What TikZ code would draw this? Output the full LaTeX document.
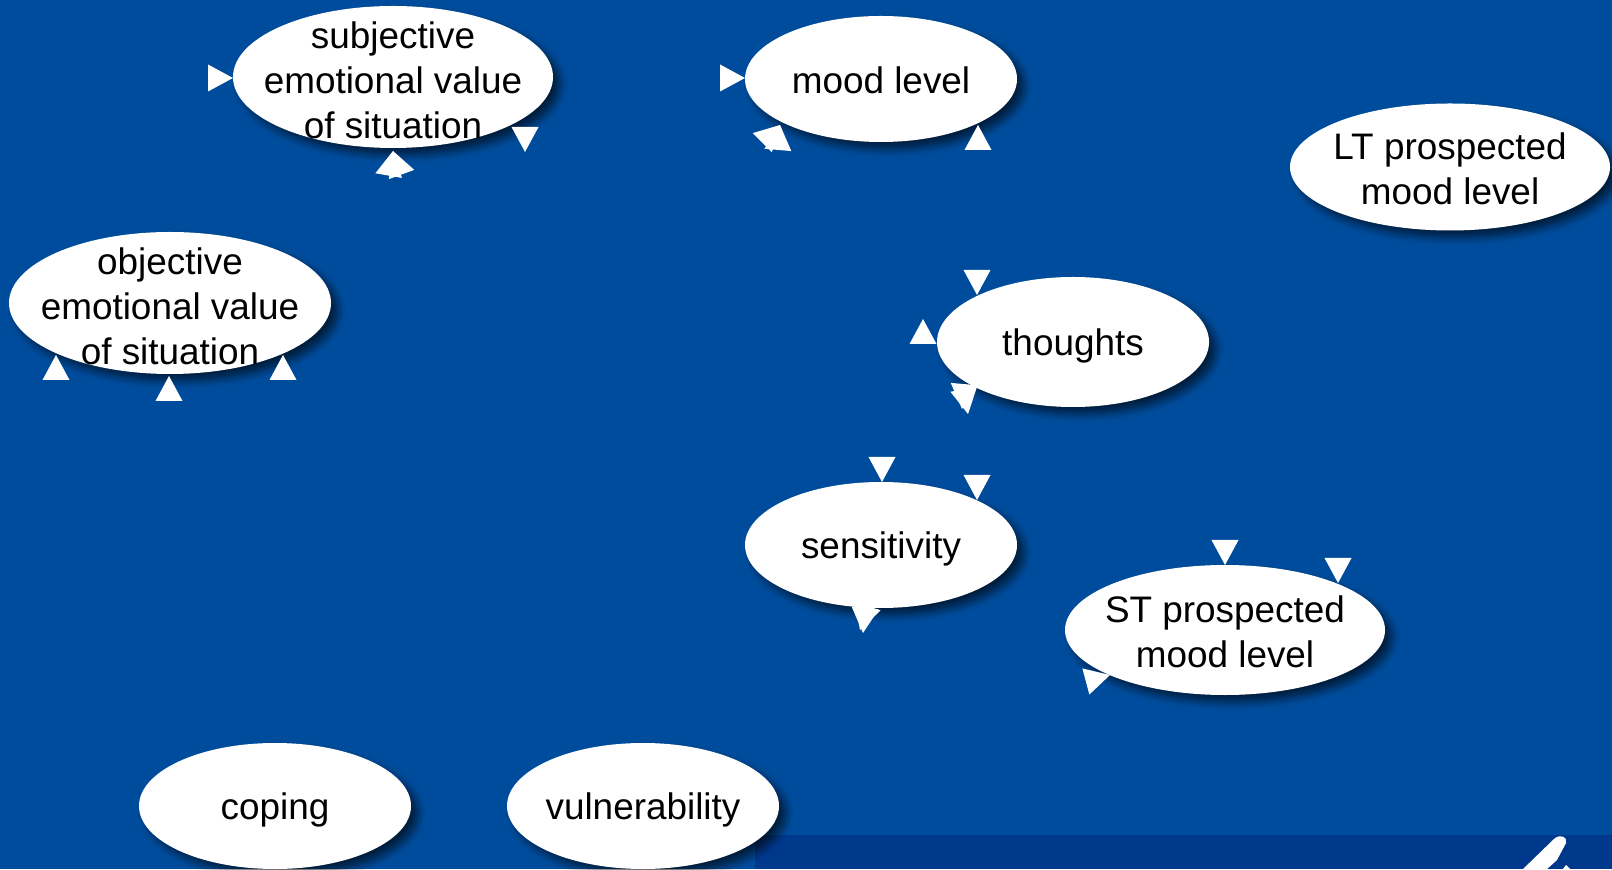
\documentclass[tikz,border=0pt]{standalone}
\usepackage{fontspec}
\setmainfont{Liberation Sans}
\usetikzlibrary{shapes.geometric,shadows.blur}
\definecolor{slide}{RGB}{0,76,156}
\definecolor{slidedark}{RGB}{0,56,140}

\begin{document}
\begin{tikzpicture}[bubble/.style={ellipse,fill=white,inner sep=-1.5cm,align=center,
    minimum width=2.72cm,minimum height=1.26cm,font=\fontsize{10.5}{12.8}\selectfont,
    text height=10pt,
    blur shadow={shadow xshift=0.07cm,shadow yshift=-0.07cm,shadow opacity=60,shadow blur steps=6}},
  wide/.style={minimum width=3.2cm,minimum height=1.3cm,text height=21.6pt},
  tall/.style={minimum height=1.42cm,text height=35.2pt},
  head/.pic={\fill[white] (0,0) -- (-0.25,0.135) -- (-0.25,-0.135) -- cycle;}]
\clip (0,0) rectangle (16.12,8.69);
\fill[slide] (0,0) rectangle (16.12,8.69);
\fill[slidedark] (7.55,0) rectangle (16.12,0.34);
\fill[white] (15.23,0) -- (15.55,0.31) .. controls (15.60,0.35) and (15.68,0.32) .. (15.66,0.26)
  -- (15.57,0.09) -- (15.47,0) -- cycle;
\fill[white] (15.63,0) -- (15.66,0.04) -- (15.70,0) -- cycle;
\node[bubble,wide,tall] (subj) at (3.93,7.92) {subjective\\emotional value\\of situation};
\node[bubble,text depth=1.8pt] (mood) at (8.81,7.9) {mood level};
\node[bubble,wide,minimum height=1.27cm] (ltmood) at (14.5,7.02) {LT prospected\\mood level};
\node[bubble,wide,tall,minimum width=3.22cm] (obj) at (1.7,5.66) {objective\\emotional value\\of situation};
\node[bubble,minimum height=1.3cm] (thoughts) at (10.73,5.27) {thoughts};
\node[bubble] (sens) at (8.81,3.24) {sensitivity};
\node[bubble,wide] (stmood) at (12.25,2.39) {ST prospected\\mood level};
\node[bubble] (coping) at (2.75,0.63) {coping};
\node[bubble] (vuln) at (6.43,0.63) {vulnerability};
\foreach \x/\y/\a in {2.33/7.91/0, 5.25/7.17/-90, 3.93/7.18/80, 3.93/7.18/110,
    7.45/7.91/0, 7.8/7.44/45, 7.8/7.44/85, 9.78/7.44/90,
    9.77/5.74/-90, 9.23/5.5/90, 9.68/4.55/-80, 9.62/4.6/-95,
    0.56/5.14/90, 1.69/4.93/90, 2.83/5.14/90,
    8.82/3.87/-90, 9.77/3.69/-90, 8.63/2.36/-95, 8.6/2.39/-108,
    12.25/3.04/-90, 13.38/2.86/-90, 11.1/1.94/15}
  \pic[rotate=\a] at (\x,\y) {head};
\end{tikzpicture}
\end{document}
